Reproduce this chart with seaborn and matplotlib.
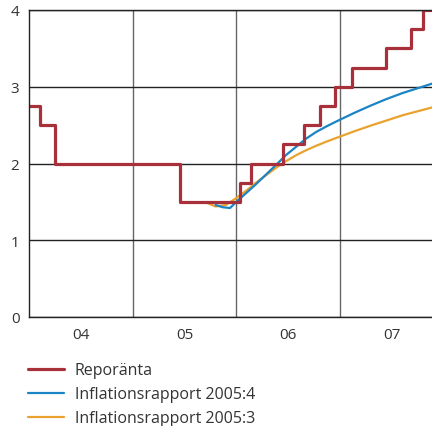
import pandas as pd
import matplotlib.pyplot as plt
import seaborn as sns

# Reporänta (steg), decimalår
repo_dates = [2004.0, 2004.10, 2004.25, 2005.46, 2006.04, 2006.14, 2006.45,
              2006.655, 2006.81, 2006.95, 2007.12, 2007.45, 2007.686, 2007.80, 2007.89]
repo_rates = [2.75, 2.5, 2.0, 1.5, 1.75, 2.0, 2.25, 2.5, 2.75, 3.0, 3.25, 3.5, 3.75, 4.0, 4.0]

# Inflationsrapport 2005:4
ir4_dates = [2005.80, 2005.87, 2005.94, 2006.0, 2006.1, 2006.19, 2006.29, 2006.39, 2006.48,
             2006.58, 2006.67, 2006.77, 2006.88, 2007.0, 2007.14, 2007.29, 2007.45,
             2007.61, 2007.75, 2007.89]
ir4_rates = [1.46, 1.43, 1.42, 1.50, 1.62, 1.73, 1.86, 1.99, 2.11, 2.22, 2.32, 2.41, 2.49,
             2.57, 2.66, 2.75, 2.84, 2.92, 2.98, 3.04]

# Inflationsrapport 2005:3
ir3_dates = [2005.72, 2005.80, 2005.90, 2006.0, 2006.1, 2006.19, 2006.29, 2006.39, 2006.48,
             2006.58, 2006.67, 2006.77, 2006.88, 2007.0, 2007.14, 2007.29, 2007.45,
             2007.61, 2007.75, 2007.89]
ir3_rates = [1.485, 1.44, 1.46, 1.55, 1.65, 1.75, 1.85, 1.95, 2.03, 2.11, 2.17, 2.23, 2.29,
             2.35, 2.42, 2.49, 2.56, 2.63, 2.68, 2.73]

year_labels = ['04', '05', '06', '07']

sns.set_style('white')
plt.rcParams['font.family'] = ['Open Sans', 'DejaVu Sans']

red = '#a8303a'
blue = '#1a84c6'
orange = '#e9a22e'
txt = '#333333'

fig = plt.figure(figsize=(4.32, 4.27), dpi=100)
ax = fig.add_axes([29.2 / 432, 109 / 427, 1 - 29.2 / 432, 307 / 427])

repo = pd.DataFrame({'x': repo_dates, 'y': repo_rates})
ir4 = pd.DataFrame({'x': ir4_dates, 'y': ir4_rates})
ir3 = pd.DataFrame({'x': ir3_dates, 'y': ir3_rates})

sns.lineplot(data=ir3, x='x', y='y', ax=ax, color=orange, lw=1.6, label='Inflationsrapport 2005:3')
sns.lineplot(data=ir4, x='x', y='y', ax=ax, color=blue, lw=1.6, label='Inflationsrapport 2005:4')
sns.lineplot(data=repo, x='x', y='y', ax=ax, color=red, lw=2.3, drawstyle='steps-post',
             label='Reporänta')

ax.set_xlim(2004, 2007.89)
ax.set_ylim(0, 4)
ax.set_xlabel('')
ax.set_ylabel('')

ax.set_xticks([2005, 2006, 2007])
ax.set_xticklabels([])
ax.set_xticks([2004.5, 2005.5, 2006.5, 2007.5], minor=True)
ax.set_xticklabels(year_labels, minor=True)
ax.set_yticks([0, 1, 2, 3, 4])
ax.tick_params(axis='both', which='both', length=0, labelsize=11, colors=txt)
ax.tick_params(axis='x', which='minor', pad=7)
ax.tick_params(axis='y', pad=7)

ax.xaxis.grid(True, which='major', color='#666666', lw=1)
ax.yaxis.grid(True, color='#222222', lw=1)
ax.set_axisbelow(True)
for side in ['left', 'bottom', 'top']:
    ax.spines[side].set_color('#222222')
    ax.spines[side].set_linewidth(1)
ax.spines['right'].set_visible(False)

h, l = ax.get_legend_handles_labels()
ax.get_legend().remove()
leg = fig.legend(h[::-1], l[::-1], loc='upper left', bbox_to_anchor=(22 / 432, 1 - 357 / 427),
                 frameon=False, fontsize=11.5, handlelength=2.2, handletextpad=0.7,
                 labelspacing=0.5, borderaxespad=0)
for t in leg.get_texts():
    t.set_color(txt)

fig.savefig('out.png', dpi=100)
